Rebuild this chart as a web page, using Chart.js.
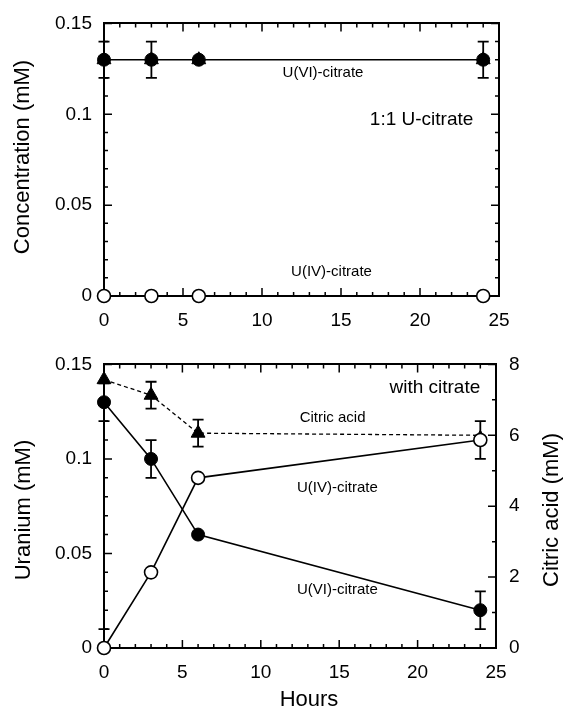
<!DOCTYPE html>
<html>
<head>
<meta charset="utf-8">
<title>U-citrate</title>
<script src="https://cdn.jsdelivr.net/npm/chart.js@4"></script>
<style>
  html, body { margin: 0; padding: 0; background: #fff; }
  #wrap { position: relative; width: 564px; height: 717px; }
  canvas { position: absolute; left: 0; }
  #top-chart { top: 0; }
  #bottom-chart { top: 340px; }
</style>
</head>
<body>
<div id="wrap">
  <canvas id="top-chart" width="564" height="340"></canvas>
  <canvas id="bottom-chart" width="564" height="377"></canvas>
</div>
<script>
'use strict';

const hours = [0, 3, 6, 24];

// 1:1 U-citrate (top panel), mM
const ctrlU6 = [0.13, 0.13, 0.13, 0.13];
const ctrlU6Err = [0.01, 0.01, 0, 0.01];
const ctrlCitric = [0.13, 0.13, 0.13, 0.13];
const ctrlU4 = [0, 0, 0, 0];

// with citrate (bottom panel), mM
const u6 = [0.13, 0.10, 0.06, 0.02];
const u6Err = [0.01, 0.01, 0, 0.01];
const u4 = [0, 0.04, 0.09, 0.11];
const u4Err = [0.01, 0, 0, 0.01];
const citric = [7.57, 7.13, 6.06, 6.0];
const citricErr = [0, 0.38, 0.38, 0];

// axes
const xTicks = [0, 5, 10, 15, 20, 25];
const uTicks = [0, 0.05, 0.1, 0.15];
const uTickLabels = ['0', '0.05', '0.1', '0.15'];
const citricTicks = [0, 2, 4, 6, 8];

const FONT = "'Liberation Sans', Arial, Helvetica, sans-serif";

function pts(ys) {
  return hours.map((h, i) => ({ x: h, y: ys[i] }));
}

// ticks pointing into the plot, major + minor, on the given sides
const innerTicks = {
  id: 'innerTicks',
  beforeDatasetsDraw(chart, args, opts) {
    const { ctx, chartArea: a } = chart;
    ctx.save();
    ctx.strokeStyle = '#000';
    ctx.lineWidth = 1.5;
    ctx.beginPath();
    (opts.sides || []).forEach(s => {
      const scale = chart.scales[s.scale];
      const n = Math.round((s.max - s.min) / s.minor);
      for (let i = 0; i <= n; i++) {
        const v = s.min + i * s.minor;
        const isMajor = i % Math.round(s.major / s.minor) === 0;
        const len = isMajor ? 8 : 4;
        const p = scale.getPixelForValue(v);
        s.edges.forEach(e => {
          if (e === 'bottom') { ctx.moveTo(p, a.bottom); ctx.lineTo(p, a.bottom - len); }
          if (e === 'top') { ctx.moveTo(p, a.top); ctx.lineTo(p, a.top + len); }
          if (e === 'left') { ctx.moveTo(a.left, p); ctx.lineTo(a.left + len, p); }
          if (e === 'right') { ctx.moveTo(a.right, p); ctx.lineTo(a.right - len, p); }
        });
      }
    });
    ctx.stroke();
    ctx.restore();
  },
};

const errorBars = {
  id: 'errorBars',
  beforeDatasetsDraw(chart) {
    const { ctx, chartArea: a } = chart;
    ctx.save();
    ctx.beginPath();
    ctx.rect(0, a.top - 2, chart.width, a.bottom - a.top + 2);
    ctx.clip();
    ctx.strokeStyle = '#000';
    ctx.lineWidth = 1.8;
    chart.data.datasets.forEach((ds, i) => {
      if (!ds.errors) return;
      const meta = chart.getDatasetMeta(i);
      const ys = chart.scales[meta.yAxisID];
      ds.data.forEach((pt, j) => {
        const e = ds.errors[j];
        if (!e) return;
        const x = chart.scales.x.getPixelForValue(pt.x);
        const hi = ys.getPixelForValue(pt.y + e);
        const lo = ys.getPixelForValue(pt.y - e);
        ctx.beginPath();
        ctx.moveTo(x, hi); ctx.lineTo(x, lo);
        ctx.moveTo(x - 5.5, hi); ctx.lineTo(x + 5.5, hi);
        ctx.moveTo(x - 5.5, lo); ctx.lineTo(x + 5.5, lo);
        ctx.stroke();
      });
    });
    ctx.restore();
  },
};

// in-plot labels (data units) and axis titles (canvas pixels)
const textLabels = {
  id: 'textLabels',
  afterDatasetsDraw(chart, args, opts) {
    const { ctx } = chart;
    ctx.save();
    ctx.fillStyle = '#000';
    ctx.textAlign = 'center';
    ctx.textBaseline = 'middle';
    (opts.notes || []).forEach(n => {
      ctx.font = n.size + 'px ' + FONT;
      ctx.fillText(n.text, chart.scales.x.getPixelForValue(n.x), chart.scales[n.axis || 'y'].getPixelForValue(n.y));
    });
    (opts.titles || []).forEach(t => {
      ctx.save();
      ctx.font = '22px ' + FONT;
      ctx.translate(t.x, t.y);
      if (t.rot) ctx.rotate(-Math.PI / 2);
      ctx.fillText(t.text, 0, 0);
      ctx.restore();
    });
    ctx.restore();
  },
};

function fixedWidth(w) { return s => { s.width = w; }; }
function fixedHeight(h) { return s => { s.height = h; }; }

const border = { display: true, color: '#000', width: 2 };
const tickFont = { family: FONT, size: 19 };

function xAxis(height) {
  return {
    type: 'linear', position: 'bottom', min: 0, max: 25,
    afterBuildTicks: s => { s.ticks = xTicks.map(v => ({ value: v })); },
    ticks: { color: '#000', font: tickFont, padding: 13, maxRotation: 0,
      callback: v => String(v) },
    grid: { display: false, drawTicks: false },
    border,
    afterFit: fixedHeight(height),
  };
}

function frameAxis(position, size) {
  const horiz = position === 'top';
  return {
    type: 'linear', position, display: true,
    min: 0, max: 1,
    ticks: { display: false },
    grid: { display: false, drawTicks: false },
    border,
    afterFit: horiz ? fixedHeight(size) : fixedWidth(size),
  };
}

function uAxis() {
  return {
    type: 'linear', position: 'left', min: 0, max: 0.15,
    afterBuildTicks: s => { s.ticks = uTicks.map(v => ({ value: v })); },
    ticks: { color: '#000', font: tickFont, padding: 12,
      callback: (v, i) => uTickLabels[i] },
    grid: { display: false, drawTicks: false },
    border,
    afterFit: fixedWidth(104),
  };
}

const baseOptions = {
  responsive: false,
  animation: false,
  events: [],
  layout: { padding: 0 },
  plugins: { legend: { display: false }, tooltip: { enabled: false } },
};

const filled = { pointStyle: 'circle', pointRadius: 6.5, pointBackgroundColor: '#000', pointBorderColor: '#000', pointBorderWidth: 1 };
const open = { pointStyle: 'circle', pointRadius: 6.5, pointBackgroundColor: '#fff', pointBorderColor: '#000', pointBorderWidth: 1.6 };
const tri = { pointStyle: 'triangle', pointRadius: 8, pointBackgroundColor: '#000', pointBorderColor: '#000', pointBorderWidth: 1 };

// top panel: 1:1 U-citrate
new Chart(document.getElementById('top-chart'), {
  type: 'line',
  data: {
    datasets: [
      { label: 'U(IV)-citrate', data: pts(ctrlU4), showLine: false, clip: false, order: 0, ...open },
      { label: 'U(VI)-citrate', data: pts(ctrlU6), errors: ctrlU6Err, borderColor: '#000', borderWidth: 1.6,
        clip: false, order: 1, ...filled },
      { label: 'Citric acid', data: pts(ctrlCitric), showLine: false, clip: false, order: 2, ...tri },
    ],
  },
  options: {
    ...baseOptions,
    scales: {
      x: xAxis(44),
      x2: frameAxis('top', 21),
      y: uAxis(),
      y2: frameAxis('right', 65),
    },
    plugins: {
      ...baseOptions.plugins,
      innerTicks: { sides: [
        { scale: 'x', min: 0, max: 25, minor: 1, major: 5, edges: ['bottom', 'top'] },
        { scale: 'y', min: 0, max: 0.15, minor: 0.01, major: 0.05, edges: ['left', 'right'] },
      ] },
      textLabels: {
        notes: [
          { text: 'U(VI)-citrate', x: 13.86, y: 0.1227, size: 15 },
          { text: '1:1 U-citrate', x: 20.1, y: 0.0971, size: 19 },
          { text: 'U(IV)-citrate', x: 14.4, y: 0.0131, size: 15 },
        ],
        titles: [
          { text: 'Concentration (mM)', x: 23, y: 157, rot: true },
        ],
      },
    },
  },
  plugins: [innerTicks, errorBars, textLabels],
});

// bottom panel: with citrate
new Chart(document.getElementById('bottom-chart'), {
  type: 'line',
  data: {
    datasets: [
      { label: 'U(IV)-citrate', data: pts(u4), errors: u4Err, borderColor: '#000', borderWidth: 1.6,
        clip: false, order: 0, ...open },
      { label: 'U(VI)-citrate', data: pts(u6), errors: u6Err, borderColor: '#000', borderWidth: 1.6,
        clip: false, order: 1, ...filled },
      { label: 'Citric acid', data: pts(citric), errors: citricErr, yAxisID: 'y2', borderColor: '#000',
        borderWidth: 1.3, borderDash: [4, 3], clip: false, order: 2, ...tri, pointRadius: [8, 8, 8, 5] },
    ],
  },
  options: {
    ...baseOptions,
    scales: {
      x: xAxis(69),
      x2: frameAxis('top', 24),
      y: uAxis(),
      y2: {
        type: 'linear', position: 'right', min: 0, max: 8,
        afterBuildTicks: s => { s.ticks = citricTicks.map(v => ({ value: v })); },
        ticks: { color: '#000', font: tickFont, padding: 13, callback: v => String(v) },
        grid: { display: false, drawTicks: false },
        border,
        afterFit: fixedWidth(68),
      },
    },
    plugins: {
      ...baseOptions.plugins,
      innerTicks: { sides: [
        { scale: 'x', min: 0, max: 25, minor: 1, major: 5, edges: ['bottom', 'top'] },
        { scale: 'y', min: 0, max: 0.15, minor: 0.01, major: 0.05, edges: ['left'] },
        { scale: 'y2', min: 0, max: 8, minor: 1, major: 2, edges: ['right'] },
      ] },
      textLabels: {
        notes: [
          { text: 'with citrate', x: 21.1, y: 0.1376, size: 19 },
          { text: 'Citric acid', x: 14.58, y: 0.1219, size: 15 },
          { text: 'U(IV)-citrate', x: 14.88, y: 0.0848, size: 15 },
          { text: 'U(VI)-citrate', x: 14.88, y: 0.0305, size: 15 },
        ],
        titles: [
          { text: 'Uranium (mM)', x: 24, y: 170, rot: true },
          { text: 'Citric acid (mM)', x: 552, y: 170, rot: true },
          { text: 'Hours', x: 309, y: 360 },
        ],
      },
    },
  },
  plugins: [innerTicks, errorBars, textLabels],
});
</script>
</body>
</html>
